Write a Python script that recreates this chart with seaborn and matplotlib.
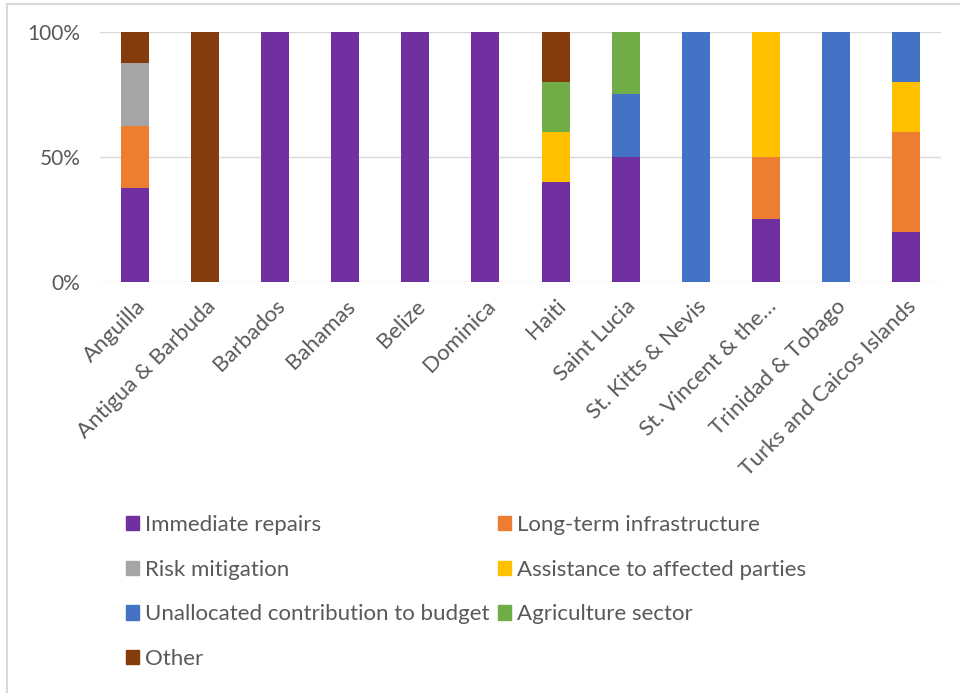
import matplotlib
matplotlib.use("Agg")
import matplotlib.pyplot as plt
import matplotlib.patches as mpatches
import matplotlib.lines as mlines
import seaborn as sns
import pandas as pd
import numpy as np

countries = ["Anguilla", "Antigua & Barbuda", "Barbados", "Bahamas", "Belize", "Dominica",
             "Haiti", "Saint Lucia", "St. Kitts & Nevis", "St. Vincent & the…",
             "Trinidad & Tobago", "Turks and Caicos Islands"]
series_names = ["Immediate repairs", "Long-term infrastructure", "Risk mitigation",
                "Assistance to affected parties", "Unallocated contribution to budget",
                "Agriculture sector", "Other"]
immediate = [37.5, 0, 100, 100, 100, 100, 40, 50, 0, 25, 0, 20]
longterm = [25, 0, 0, 0, 0, 0, 0, 0, 0, 25, 0, 40]
risk = [25, 0, 0, 0, 0, 0, 0, 0, 0, 0, 0, 0]
assistance = [0, 0, 0, 0, 0, 0, 20, 0, 0, 50, 0, 20]
unallocated = [0, 0, 0, 0, 0, 0, 0, 25, 100, 0, 100, 20]
agriculture = [0, 0, 0, 0, 0, 0, 20, 25, 0, 0, 0, 0]
other = [12.5, 100, 0, 0, 0, 0, 20, 0, 0, 0, 0, 0]
colors = ["#7030A0", "#ED7D31", "#A5A5A5", "#FFC000", "#4472C4", "#70AD47", "#843C0C"]

values = [immediate, longterm, risk, assistance, unallocated, agriculture, other]
df = pd.DataFrame({n: v for n, v in zip(series_names, values)}, index=countries)
totals = df.sum(axis=1)
pct = df.div(totals, axis=0) * 100
cum = pct.cumsum(axis=1)

sns.set_theme(style="white")
plt.rcParams['font.family'] = ['Lato', 'DejaVu Sans']

fig = plt.figure(figsize=(9.6, 6.93), dpi=100)
ax = fig.add_axes([100/960, 1 - 282/693, 841/960, 250/693])

for i in range(len(series_names) - 1, -1, -1):
    d = pd.DataFrame({"country": countries, "val": cum.iloc[:, i].values})
    sns.barplot(data=d, x="country", y="val", color=colors[i], width=0.4,
                saturation=1, ax=ax, edgecolor="none", zorder=3)

ax.set_ylim(0, 100)
ax.set_xlim(-0.5, len(countries) - 0.5)
ax.set_yticks([0, 50, 100])
ax.set_yticklabels(["0%", "50%", "100%"])
ax.yaxis.grid(True, color="#D9D9D9", linewidth=1, zorder=0)
ax.set_axisbelow(True)
for s in ax.spines.values():
    s.set_visible(False)
ax.set_xlabel("")
ax.set_ylabel("")
ax.tick_params(axis="both", length=0, colors="#595959")
ax.tick_params(axis="y", pad=14, labelsize=15)
ax.tick_params(axis="x", pad=10, labelsize=16)
plt.setp(ax.get_xticklabels(), rotation=45, ha="right", rotation_mode="anchor")

handles = [mpatches.Patch(color=c, label=n) for c, n in zip(colors, series_names)]
leg_kw = dict(loc="upper left", frameon=False, fontsize=16, labelcolor="#595959",
              handlelength=0.585, handleheight=0.63, handletextpad=0.27,
              labelspacing=1.11, borderpad=0, borderaxespad=0)
col1 = [0, 2, 4, 6]
col2 = [1, 3, 5]
fig.legend([handles[k] for k in col1], [series_names[k] for k in col1],
           bbox_to_anchor=(126/960, 1 - 515/693), **leg_kw)
fig.legend([handles[k] for k in col2], [series_names[k] for k in col2],
           bbox_to_anchor=(498/960, 1 - 515/693), **leg_kw)

fig.add_artist(mlines.Line2D([7/960, 1], [1 - 3.5/693, 1 - 3.5/693],
                             transform=fig.transFigure, color="#D9D9D9", linewidth=1.5))
fig.add_artist(mlines.Line2D([7/960, 7/960], [0, 1 - 3.5/693],
                             transform=fig.transFigure, color="#D9D9D9", linewidth=1.5))

fig.savefig("out.png", dpi=100)
